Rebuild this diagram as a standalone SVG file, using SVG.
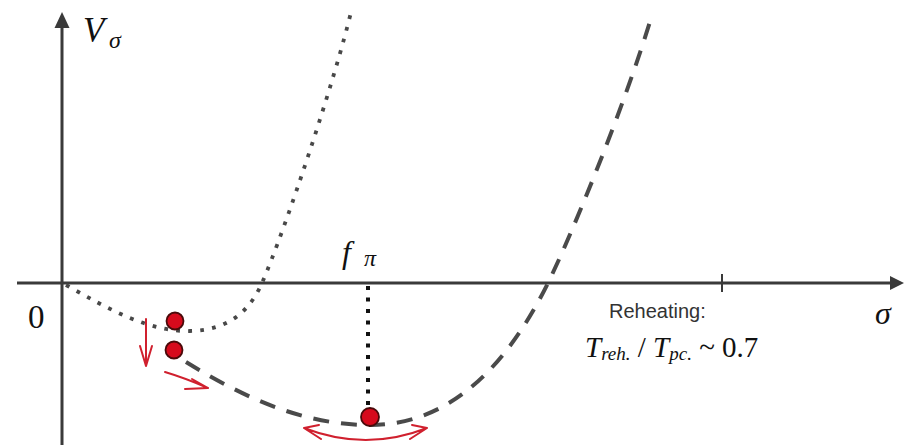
<svg xmlns="http://www.w3.org/2000/svg" width="904" height="445" viewBox="0 0 904 445">
<style>
.axis{stroke:#3a3a3a;stroke-width:3;fill:none}
.dotted{stroke:#484848;stroke-width:3.8;fill:none;stroke-dasharray:3.8 8.2}
.dashed{stroke:#4a4a4a;stroke-width:4;fill:none;stroke-dasharray:16 12}
.vline{stroke:#111;stroke-width:4;fill:none;stroke-dasharray:4 7.5}
.red{stroke:#d0202e;stroke-width:2;fill:none;stroke-linecap:round;stroke-linejoin:round}
.ball{fill:#d60a1c;stroke:#4a0a0a;stroke-width:1.8}
.ser{font-family:'Liberation Serif','DejaVu Serif',serif;fill:#111}
.it{font-style:italic}
.sans{font-family:'Liberation Sans',Arial,sans-serif;fill:#333}
</style>
<g id="axes">
<line class="axis" x1="62" y1="445" x2="62" y2="26"/>
<path d="M62,12 L54.5,28 L69.5,28 Z" fill="#3a3a3a"/>
<line class="axis" x1="17" y1="283" x2="892" y2="283"/>
<path d="M904,283 L890,276 L890,290 Z" fill="#3a3a3a"/>
<line x1="722" y1="274" x2="722" y2="292" stroke="#3a3a3a" stroke-width="2"/>
</g>
<g id="curves">
<path class="dotted" d="M66,285 C110,310 150,332 190,331 C230,330 250,310 262,283 C285,230 335,80 352,8"/>
<path class="dashed" d="M186,362 C240,395 300,425 370,425 C440,425 500,380 548,283 C572,234 625,105 652,15"/>
<line class="vline" x1="368" y1="286" x2="368" y2="408"/>
</g>
<g id="arrows">
<path class="red" d="M146,319 L146,365 M140,346 L146,366 L152,346"/>
<path class="red" d="M165,372 Q185,378 208,388 M192,379 L208,388 L185,389"/>
<path class="red" d="M304,428 Q366,452 427,428 M304,428 L319,425 M304,428 L321,439 M427,428 L412,425 M427,428 L410,439"/>
</g>
<g id="balls">
<circle class="ball" cx="175" cy="321" r="8.5"/>
<circle class="ball" cx="174" cy="350" r="8.5"/>
<circle class="ball" cx="370" cy="417" r="9"/>
</g>
<g id="labels">
<text class="ser it" x="83" y="42" font-size="35">V</text>
<text class="ser it" x="109" y="48" font-size="24">σ</text>
<text class="ser" x="28" y="328" font-size="33">0</text>
<text class="ser it" x="875" y="324" font-size="32">σ</text>
<text class="ser it" x="342" y="263" font-size="32">f</text>
<text class="ser it" x="364" y="266" font-size="24">π</text>
<text class="sans" x="609" y="318" font-size="20">Reheating:</text>
<text class="ser" x="585" y="357" font-size="29"><tspan class="it">T</tspan><tspan class="it" font-size="19" dy="3">reh.</tspan><tspan dy="-3"> / </tspan><tspan class="it">T</tspan><tspan class="it" font-size="19" dy="3">pc.</tspan><tspan dy="-3"> ~ 0.7</tspan></text>
</g>
</svg>
